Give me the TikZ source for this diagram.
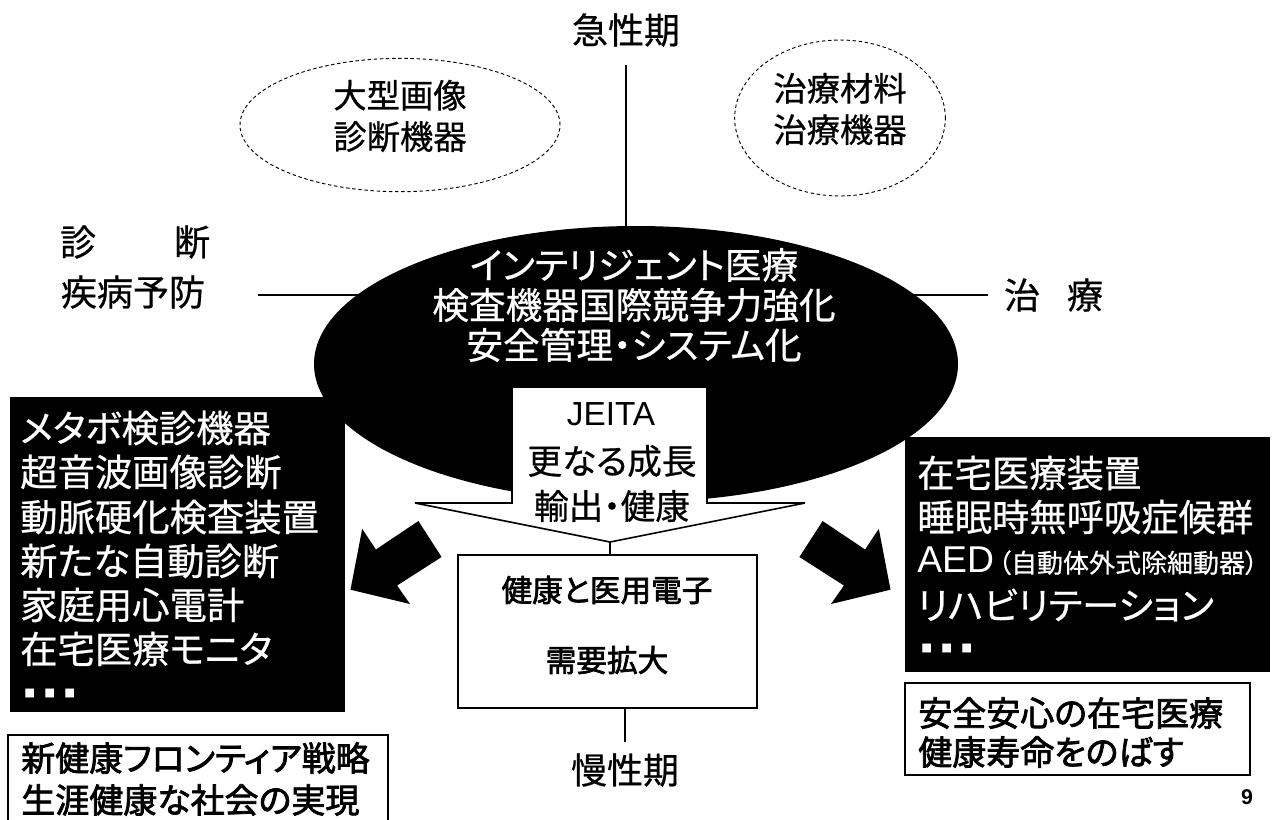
\documentclass[tikz,border=0pt]{standalone}
\usepackage{fontspec}
\setmainfont{Noto Sans CJK JP}[RawFeature=+palt, FakeBold=0.6]
\newfontfamily\jpb{Noto Sans CJK JP}[RawFeature=+palt, FakeBold=2.2]
\newfontfamily\arial{Liberation Sans}
\usetikzlibrary{shapes.geometric,fit,backgrounds}
\tikzset{
  ax/.style={line width=1.1pt},
  dell/.style={ellipse, draw, dash pattern=on 2.6pt off 2pt, line width=0.7pt, inner sep=0},
  blk/.style={fill=black, inner sep=0},
  wbox/.style={draw, line width=1.1pt, fill=white, inner sep=0},
  wl/.style={text=white, anchor=west, inner sep=0, font=\fontsize{28}{28}\selectfont},
  bl/.style={anchor=west, inner sep=0, font=\jpb\fontsize{25.5}{25.5}\selectfont},
  lbl/.style={inner sep=0, font=\fontsize{27}{27}\selectfont},
  dots/.style={text=white, anchor=west, inner sep=0, font=\fontsize{8}{8}\selectfont},
}
\begin{document}
\begin{tikzpicture}[x=0.75pt,y=-0.75pt]
\useasboundingbox (0,0) rectangle (1280,819);
\clip (0,0) rectangle (1280,819);
\fill[white] (0,0) rectangle (1280,819);

% axes
\coordinate (axT) at (626,65);
\coordinate (axC) at (626,300);
\coordinate (axL) at (258,295);
\coordinate (axLc) at (500,295);
\coordinate (axR) at (988,295);
\coordinate (axRc) at (800,295);
\draw[ax] (axT) -- (axC);
\draw[ax] (axL) -- (axLc);
\draw[ax] (axRc) -- (axR);

% central black ellipse
\node[ellipse, fill=black, inner sep=0, minimum width=483pt, minimum height=207pt] (core) at (636,364) {};
\node[text=white, align=center, inner sep=0, font=\fontsize{27.5}{30}\selectfont] (coretxt) at (634,305)
  {インテリジェント医療\\検査機器国際競争力強化\\安全管理・システム化};

% top labels and dashed ellipses
\node[lbl] (acute) at (626,30) {急性期};
\node[dell, minimum width=240pt, minimum height=100pt] (e1) at (400,125) {};
\node[lbl, align=center, font=\fontsize{25}{31}\selectfont] (e1txt) at (400,116) {大型画像\\診断機器};
\node[dell, minimum width=158pt, minimum height=117pt] (e2) at (840,118) {};
\node[lbl, align=center, font=\fontsize{25}{31}\selectfont] (e2txt) at (840,109) {治療材料\\治療機器};

% side labels
\node[lbl] (diag1) at (78,242) {診};
\node[lbl] (diag2) at (192,242) {断};
\node[lbl] (prev) at (133,292) {疾病予防};
\node[lbl] (tr1) at (1022,295) {治};
\node[lbl] (tr2) at (1085,295) {療};

% big down arrow
\coordinate (tip) at (610,542);
\draw[line width=1.2pt, fill=white, line join=miter]
  (512,387) -- (707,387) -- (707,503) -- (805,503) -- (tip) -- (415,503) -- (512,503) -- cycle;
\node[inner sep=0, font=\arial\fontsize{25}{25}\selectfont] (jeita) at (611,414) {JEITA};
\node[lbl, font=\fontsize{26}{26}\selectfont] (grow) at (612,461) {更なる成長};
\node[lbl, font=\fontsize{26}{26}\selectfont] (exp) at (612,506) {輸出・健康};

% central box
\node[wbox, fit={(458,555) (757,708)}] (hub) {};
\node[inner sep=0, font=\jpb\fontsize{23}{23}\selectfont] (hub1) at (607,590) {健康と医用電子};
\node[inner sep=0, font=\jpb\fontsize{23}{23}\selectfont] (hub2) at (607,660) {需要拡大};
\draw[ax] (tip) -- (tip |- hub.north);
\coordinate (axB) at (625,742);
\draw[ax] (axB |- hub.south) -- (axB);
\node[lbl] (chronic) at (625,770) {慢性期};

% black block arrows
\fill (418.4,521) -- (441.6,557) -- (397.1,585.5) -- (410,604) -- (350.5,589.7) -- (362.2,528.8) -- (375.9,549.5) -- cycle;
\fill (822.6,521) -- (799.4,557) -- (843.9,585.5) -- (831,604) -- (890.5,589.7) -- (878.8,528.8) -- (865.1,549.5) -- cycle;

% left black box
\node[blk, fit={(10,397) (345,712)}] (lbox) {};
\node[wl] (l1) at (20,428) {メタボ検診機器};
\node[wl] (l2) at (20,472) {超音波画像診断};
\node[wl] (l3) at (20,517) {動脈硬化検査装置};
\node[wl] (l4) at (20,561) {新たな自動診断};
\node[wl] (l5) at (20,605) {家庭用心電計};
\node[wl] (l6) at (20,649) {在宅医療モニタ};
\node[dots] (l7) at (24,693) {■\hspace{7pt}■\hspace{7pt}■};

% right black box
\node[blk, fit={(905,437) (1270,672)}] (rbox) {};
\node[wl] (r1) at (917,473) {在宅医療装置};
\node[wl] (r2) at (917,517) {睡眠時無呼吸症候群};
\node[wl] (r3) at (917,561) {{\arial AED}\hspace{3pt}\fontsize{19.5}{19.5}\selectfont （自動体外式除細動器）};
\node[wl] (r4) at (917,605) {リハビリテーション};
\node[dots] (r5) at (921,648) {■\hspace{7pt}■\hspace{7pt}■};

% bottom boxes
\node[wbox, fit={(8,735) (388,830)}] (lgoal) {};
\node[bl] (g1) at (21,758) {新健康フロンティア戦略};
\node[bl] (g2) at (21,800) {生涯健康な社会の実現};
\node[wbox, fit={(905,683) (1250,775)}] (rgoal) {};
\node[bl] (g3) at (918,713) {安全安心の在宅医療};
\node[bl] (g4) at (918,752) {健康寿命をのばす};

\node[inner sep=0, font=\arial\bfseries\fontsize{16}{16}\selectfont] (page) at (1247,797) {9};
\end{tikzpicture}
\end{document}
